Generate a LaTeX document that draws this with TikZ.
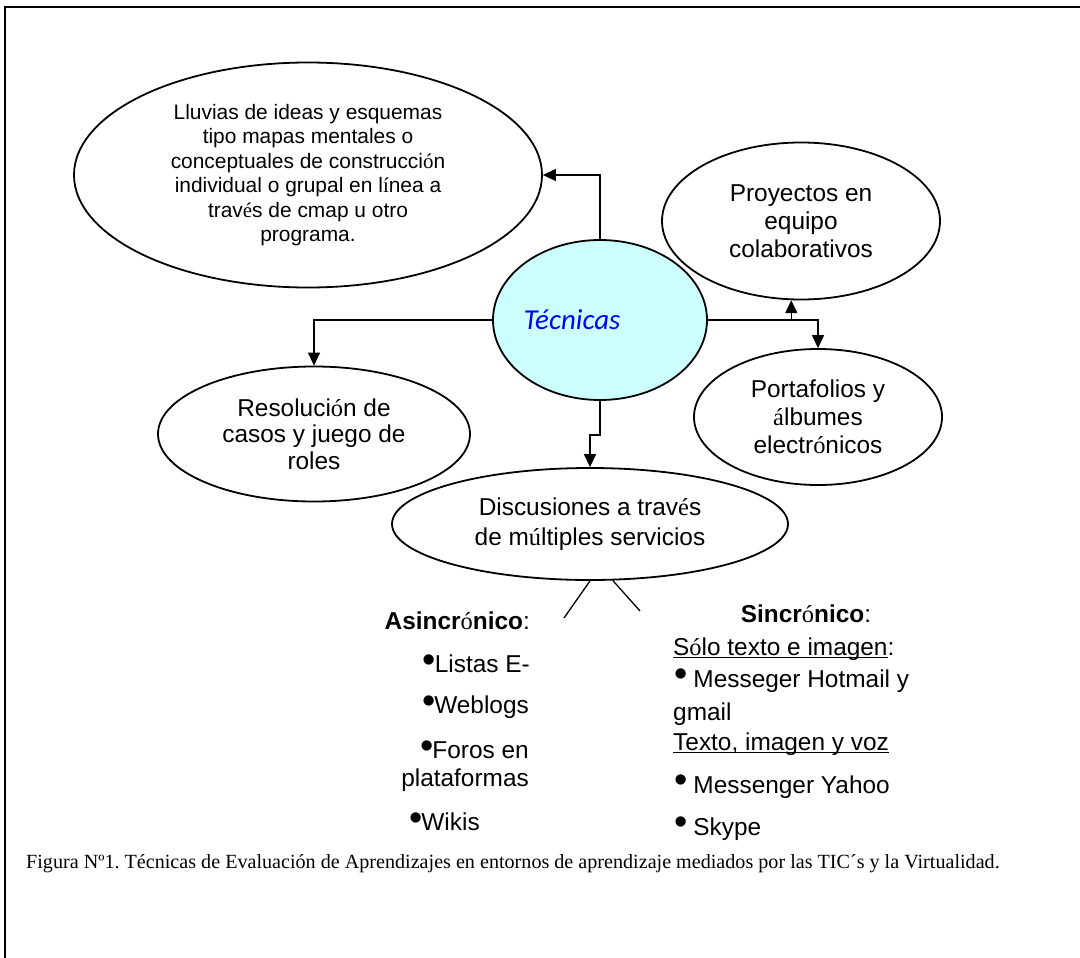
\documentclass[tikz,border=0pt]{standalone}
\usepackage{fontspec}
\setmainfont{Liberation Serif}
\setsansfont{Liberation Sans}
\newfontfamily\arialf{Liberation Sans}
\newfontfamily\timesf{Liberation Serif}
\newfontfamily\calf{Carlito}
\usetikzlibrary{shapes.geometric,arrows.meta}
\definecolor{tecfill}{RGB}{204,255,255}
\definecolor{tecblue}{RGB}{0,0,255}
\newcommand\sa[1]{{\timesf\mdseries #1}}
\newsavebox\myulbox
\newcommand\myul[1]{\sbox\myulbox{#1}\rlap{\rule[-3bp]{\wd\myulbox}{1.2bp}}\usebox\myulbox}
\newcommand\lb{{\fontsize{38}{38}\selectfont •}\hspace{-1bp}}
\newcommand\rb{\raisebox{0.5bp}{\fontsize{38}{38}\selectfont •}\hspace{6bp}}
\frenchspacing
\begin{document}
\begin{tikzpicture}[x=1bp,y=-1bp,
  oval/.style={ellipse,draw,line width=1.8bp,inner sep=0pt,align=center,
    font=\arialf\fontsize{24.5}{28}\selectfont},
  arr/.style={line width=1.3bp,-{Triangle[length=13bp,width=12bp]}},
  conn/.style={line width=1.3bp},
  item/.style={inner sep=0pt,font=\arialf\fontsize{24.5}{28}\selectfont},
  bolditem/.style={inner sep=0pt,font=\arialf\bfseries\fontsize{24.5}{28}\selectfont}]
\useasboundingbox (0,0) rectangle (1080,958);
\draw[line width=1.5bp] (5,958) -- (5,7) -- (1080,7);

\node[oval,minimum width=468bp,minimum height=225bp,
  font=\arialf\fontsize{21}{24.6}\selectfont] (llu) at (308,175)
  {Lluvias de ideas y esquemas\\tipo mapas mentales o\\conceptuales de construcci\sa{ó}n\\individual o grupal en l\sa{í}nea a\\trav\sa{é}s de cmap u otro\\programa.};
\node[oval,fill=tecfill,minimum width=214bp,minimum height=160bp,
  font=\calf\itshape\fontsize{29}{30}\selectfont,text=tecblue] (tec) at (600,320)
  {\hbox to 0pt{\hss\raisebox{-5bp}{Técnicas}\hskip56bp\hss}};
\node[oval,minimum width=278bp,minimum height=157bp] (proy) at (801,221)
  {Proyectos en\\equipo\\colaborativos};
\node[oval,minimum width=248bp,minimum height=136bp] (port) at (818,417)
  {Portafolios y\\\sa{á}lbumes\\electr\sa{ó}nicos};
\node[oval,minimum width=312bp,minimum height=135bp,
  font=\arialf\fontsize{24.5}{26.5}\selectfont] (res) at (314,434)
  {Resoluci\sa{ó}n de\\casos y juego de\\roles};
\node[oval,minimum width=396bp,minimum height=112bp,
  font=\arialf\fontsize{24.5}{30}\selectfont] (dis) at (590,524)
  {Discusiones a trav\sa{é}s\\de m\sa{ú}ltiples servicios};

\draw[arr] (tec.north) |- (llu.east);
\draw[arr] (tec.west) -| (res.north);
\draw[arr] (tec.east) -| (port.north);
\draw[arr] (tec.east -| proy.263) -- (proy.263);
\draw[arr] (tec.south) -- ++(0,34) -| (dis.north);

\coordinate (l1) at (564,618);
\coordinate (l2) at (640,611);
\draw[conn] (dis.south) -- (l1);
\draw[conn] (dis.292) -- (l2);

\node[bolditem,anchor=base east] (asin) at (530,629) {Asincr\sa{ó}nico\mdseries:};
\node[item,anchor=base east] (lis) at (530,672) {\lb Listas E-};
\node[item,anchor=base east] (web) at (529,713) {\lb Weblogs};
\node[item,anchor=base east] (for) at (529,758) {\lb Foros en};
\node[item,anchor=base east] (plat) at (529,786) {plataformas};
\node[item,anchor=base west] (wik) at (409,830) {\lb Wikis};

\node[bolditem,anchor=base] (sin) at (806,622) {Sincr\sa{ó}nico\mdseries:};
\node[item,anchor=base west] (solo) at (673,655) {\myul{S\sa{ó}lo texto e imagen}:};
\node[item,anchor=base west] (mes) at (674,687) {\rb Messeger Hotmail y};
\node[item,anchor=base west] (gm) at (673,720) {gmail};
\node[item,anchor=base west] (tex) at (673,750) {\myul{Texto, imagen y voz}};
\node[item,anchor=base west] (yah) at (674,793) {\rb Messenger Yahoo};
\node[item,anchor=base west] (sky) at (674,835) {\rb Skype};

\node[inner sep=0pt,anchor=base west,font=\timesf\fontsize{20.2}{22}\selectfont] (cap) at (26,868)
  {Figura Nº1. Técnicas de Evaluación de Aprendizajes en entornos de aprendizaje mediados por las TIC´s y la Virtualidad.};
\end{tikzpicture}
\end{document}
